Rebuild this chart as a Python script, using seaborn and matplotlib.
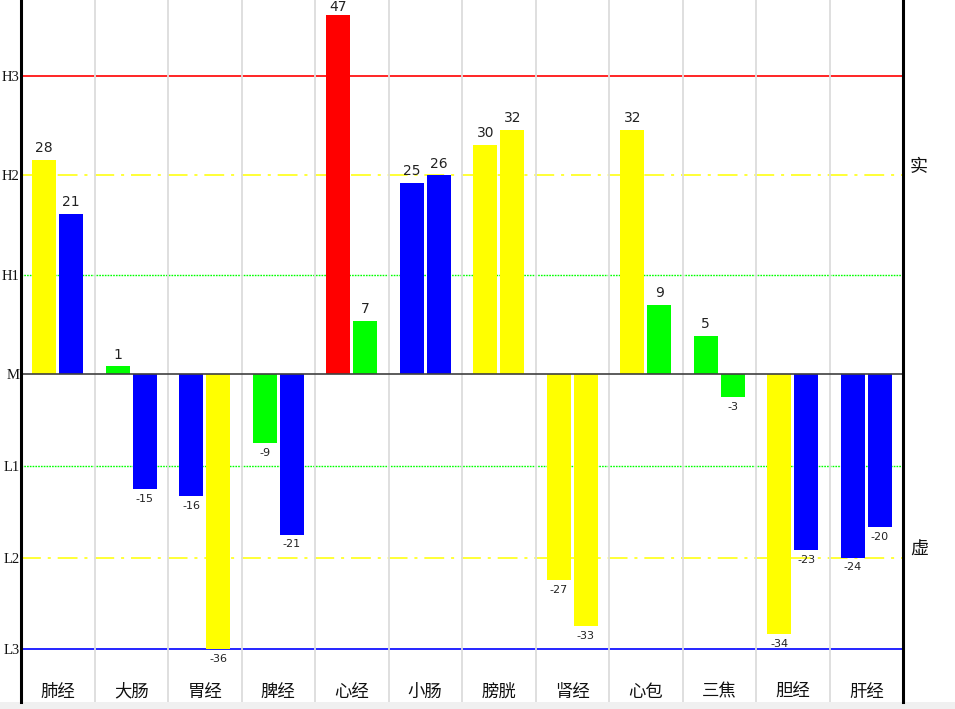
import matplotlib
matplotlib.use("Agg")
import matplotlib.pyplot as plt
from matplotlib.patches import Rectangle
import seaborn as sns
import pandas as pd

categories = ["肺经", "大肠", "胃经", "脾经", "心经", "小肠", "膀胱", "肾经", "心包", "三焦", "胆经", "肝经"]
values_a = [28, 1, -16, -9, 47, 25, 30, -27, 32, 5, -34, -24]
values_b = [21, -15, -36, -21, 7, 26, 32, -33, 9, -3, -23, -20]
colors_a = ["yellow", "lime", "blue", "lime", "red", "blue", "yellow", "yellow", "yellow", "lime", "yellow", "blue"]
colors_b = ["blue", "blue", "yellow", "blue", "lime", "blue", "yellow", "yellow", "lime", "lime", "blue", "blue"]

level_labels = ["H3", "H2", "H1", "M", "L1", "L2", "L3"]
level_values = [39, 26, 13, 0, -12, -24, -36]
side_labels = ["实", "虚"]
side_values = [26, -24]

sns.set_theme(style="white")
plt.rcParams["font.family"] = ["Noto Sans CJK SC", "DejaVu Sans"]

fig = plt.figure(figsize=(9.55, 7.09), dpi=100)
fig.patch.set_facecolor("white")
fig.patches.append(Rectangle((0, 0), 1, 7 / 709, transform=fig.transFigure,
                             facecolor="#f0f0f0", edgecolor="none", zorder=-5))
ax = fig.add_axes([21 / 955, 7 / 709, (903 - 21) / 955, 702 / 709])

df = pd.DataFrame({
    "cat": categories * 2,
    "slot": ["a"] * len(categories) + ["b"] * len(categories),
    "value": values_a + values_b,
})
sns.barplot(data=df, x="cat", y="value", hue="slot", order=categories,
            hue_order=["a", "b"], dodge=True, width=0.734, gap=0.11,
            linewidth=0, legend=False, ax=ax, errorbar=None, zorder=3)

ymin, ymax = -42.9, 48.95
bar_colors = colors_a + colors_b
bar_values = values_a + values_b
for patch, c, v in zip(ax.patches, bar_colors, bar_values):
    patch.set_facecolor(c)
    patch.set_edgecolor("none")
    xc = patch.get_x() + patch.get_width() / 2
    if v >= 0:
        off = 3.5 if v < ymax - 3 else 0.5
        ax.annotate(str(v), xy=(xc, v), xytext=(0, off), textcoords="offset points",
                    ha="center", va="bottom", fontsize=10, family="DejaVu Sans",
                    color="#222222", zorder=6)
    else:
        ax.annotate(str(v), xy=(xc, v), xytext=(0, -3.5), textcoords="offset points",
                    ha="center", va="top", fontsize=8, family="DejaVu Sans",
                    color="#222222", zorder=6)

# reference lines
ax.axhline(39, color="red", lw=1.2, zorder=1)
ax.axhline(26, color="yellow", lw=1.1, dashes=(13, 4.5, 2, 4.5), zorder=1)
ax.axhline(13, color="lime", lw=1.0, dashes=(1.2, 0.8), zorder=1)
ax.axhline(-12, color="lime", lw=1.0, dashes=(1.2, 0.8), zorder=1)
ax.axhline(-24, color="yellow", lw=1.1, dashes=(13, 4.5, 2, 4.5), zorder=1)
ax.axhline(-36, color="blue", lw=1.2, zorder=1)
ax.axhline(0, color="#404040", lw=1.2, zorder=5)

# category separators
n = len(categories)
for i in range(1, n):
    ax.axvline(i - 0.5, color="#dcdcdc", lw=1.3, zorder=2)

ax.set_xlim(-0.5, n - 0.5)
ax.set_ylim(ymin, ymax)

ax.set_yticks(level_values, labels=level_labels)
for t in ax.get_yticklabels():
    t.set_family("Liberation Serif")
    t.set_fontsize(10.5)
    t.set_color("#111111")
ax.tick_params(axis="y", length=0, pad=1)

ax.set_xticks(range(n), labels=categories)
ax.tick_params(axis="x", length=0, pad=-14, labelsize=12.5, labelcolor="#111111")
ax.set_xlabel("")
ax.set_ylabel("")

for lab, v in zip(side_labels, side_values):
    ax.annotate(lab, xy=(1, v), xycoords=("axes fraction", "data"), xytext=(5, 6),
                textcoords="offset points", ha="left", va="center", fontsize=13,
                color="#111111", annotation_clip=False)

for s in ["top", "bottom"]:
    ax.spines[s].set_visible(False)
for s in ["left", "right"]:
    ax.spines[s].set_visible(True)
    ax.spines[s].set_color("black")
    ax.spines[s].set_linewidth(2.2)
    ax.spines[s].set_zorder(7)

fig.savefig("out.png", dpi=100)
